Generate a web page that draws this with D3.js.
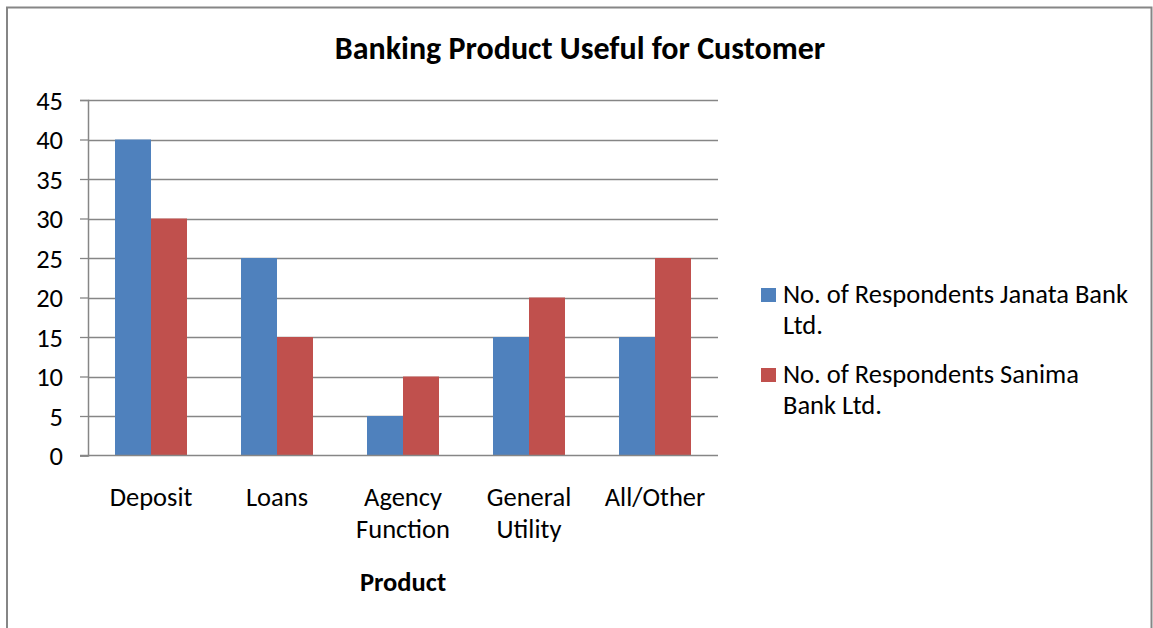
<!DOCTYPE html>
<html>
<head>
<meta charset="utf-8">
<script src="https://cdn.jsdelivr.net/npm/d3@7"></script>
<style>
  html, body { margin: 0; padding: 0; background: #fff; }
  svg { display: block; }
  text { font-family: Carlito, Calibri, Lato, "Open Sans", sans-serif; fill: #000; }
</style>
</head>
<body>
<svg id="chart" width="1153" height="628"></svg>
<script>
// Survey results: which banking product customers find useful
const categories = [["Deposit"], ["Loans"], ["Agency", "Function"], ["General", "Utility"], ["All/Other"]];
const seriesNames = [["No. of Respondents Janata Bank", "Ltd."], ["No. of Respondents Sanima", "Bank Ltd."]];
const janataValues = [40, 25, 5, 15, 15];
const sanimaValues = [30, 15, 10, 20, 25];
const yTicks = [0, 5, 10, 15, 20, 25, 30, 35, 40, 45];
const colors = ["#4F81BD", "#C0504D"];

const FS = "26.5px";

const svg = d3.select("#chart");

// outer chart frame
svg.append("rect")
  .attr("x", 7).attr("y", 7.5).attr("width", 1144.5).attr("height", 640)
  .attr("fill", "#fff").attr("stroke", "#868686").attr("stroke-width", 2);

const plot = { left: 88, right: 718, top: 100, bottom: 455.5 };

const x = d3.scaleBand()
  .domain(d3.range(categories.length))
  .range([plot.left, plot.right])
  .paddingInner(0.4286).paddingOuter(0.2143);

const xSeries = d3.scaleBand().domain([0, 1]).range([0, x.bandwidth()]);

const y = d3.scaleLinear().domain([0, 45]).range([plot.bottom, plot.top]);

// horizontal gridlines
svg.append("g").selectAll("line")
  .data(yTicks.filter(d => d > 0))
  .join("line")
  .attr("x1", plot.left).attr("x2", plot.right)
  .attr("y1", d => Math.round(y(d)) + 0.5).attr("y2", d => Math.round(y(d)) + 0.5)
  .attr("stroke", "#868686").attr("stroke-width", 1.3);

// y axis
const yAxis = d3.axisLeft(y).tickValues(yTicks).tickSize(8).tickPadding(17);
const gy = svg.append("g").attr("transform", `translate(${plot.left},0)`).call(yAxis);
gy.select(".domain").attr("stroke", "#868686").attr("stroke-width", 1.5);
gy.selectAll(".tick line").attr("stroke", "#868686").attr("stroke-width", 1.3);
gy.selectAll(".tick text").style("font-size", FS).attr("fill", "#000").attr("dy", "0.34em");

// bars
const series = [janataValues, sanimaValues];
series.forEach((vals, s) => {
  svg.append("g").selectAll("rect")
    .data(vals)
    .join("rect")
    .attr("x", (d, i) => x(i) + xSeries(s))
    .attr("y", d => y(d))
    .attr("width", xSeries.bandwidth())
    .attr("height", d => y(0) - y(d))
    .attr("fill", colors[s]);
});

// x axis baseline
svg.append("line")
  .attr("x1", plot.left - 8).attr("x2", plot.right)
  .attr("y1", plot.bottom).attr("y2", plot.bottom)
  .attr("stroke", "#868686").attr("stroke-width", 1.5);

// category labels
const catG = svg.append("g");
categories.forEach((lines, i) => {
  const t = catG.append("text")
    .attr("x", x(i) + x.bandwidth() / 2)
    .attr("y", 506)
    .attr("text-anchor", "middle")
    .style("font-size", FS);
  lines.forEach((ln, k) => {
    t.append("tspan").attr("x", x(i) + x.bandwidth() / 2).attr("dy", k === 0 ? 0 : 32).text(ln);
  });
});

// titles
svg.append("text")
  .attr("x", 580).attr("y", 59)
  .attr("text-anchor", "middle")
  .style("font-size", "32px").style("font-weight", "bold")
  .text("Banking Product Useful for Customer");

svg.append("text")
  .attr("x", 403).attr("y", 591)
  .attr("text-anchor", "middle")
  .style("font-size", FS).style("font-weight", "bold")
  .text("Product");

// legend
const legend = svg.append("g");
seriesNames.forEach((lines, s) => {
  const top = 288 + s * 80;
  legend.append("rect")
    .attr("x", 761).attr("y", top)
    .attr("width", 15).attr("height", 14)
    .attr("fill", colors[s]);
  const t = legend.append("text").attr("x", 783).attr("y", top + 15).style("font-size", FS);
  lines.forEach((ln, k) => {
    t.append("tspan").attr("x", 783).attr("dy", k === 0 ? 0 : 31).text(ln);
  });
});
</script>
</body>
</html>
